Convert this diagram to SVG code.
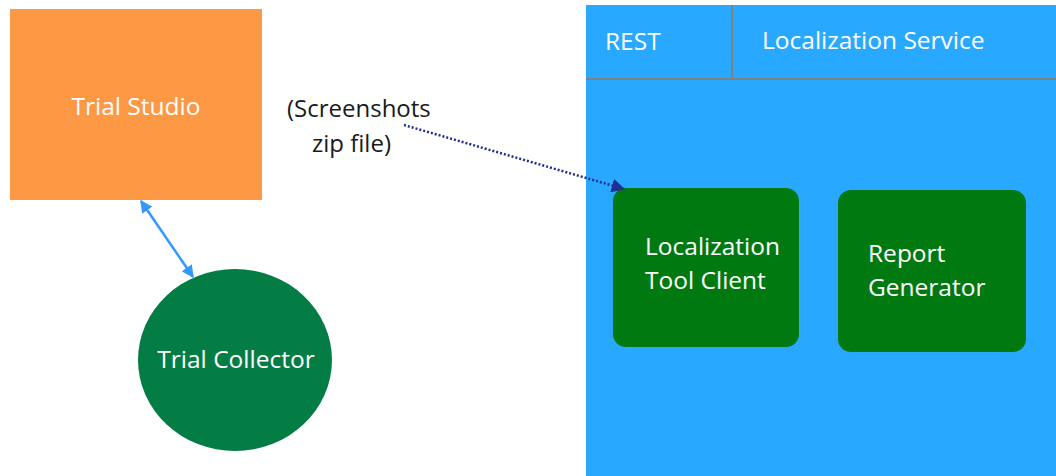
<svg xmlns="http://www.w3.org/2000/svg" width="1056" height="476" viewBox="0 0 1056 476">
  <defs>
    <style>
      .lbl { font-family: "Open Sans", "Noto Sans", sans-serif; font-size: 24.5px; fill: #ffffff; }
      .note { font-family: "Open Sans", "Noto Sans", sans-serif; font-size: 24px; fill: #1a1a1a; }
      .divider { stroke: #808080; stroke-width: 2; }
      .link { stroke: #3399ff; stroke-width: 2.5; fill: none; }
      .flow { stroke: #1f2f8f; stroke-width: 2.5; stroke-dasharray: 2 2; fill: none; }
    </style>
    <marker id="blueHead" viewBox="0 0 10 10" refX="9" refY="5" markerWidth="5" markerHeight="5" orient="auto-start-reverse">
      <path d="M0,0 L10,5 L0,10 z" fill="#3399ff"/>
    </marker>
    <marker id="navyHead" viewBox="0 0 10 10" refX="9" refY="5" markerWidth="5.5" markerHeight="5.5" orient="auto">
      <path d="M0,0 L10,5 L0,10 z" fill="#1f2f8f"/>
    </marker>
  </defs>

  <rect width="1056" height="476" fill="#ffffff"/>

  <!-- Localization service container -->
  <g id="localization-service">
    <rect x="586" y="5" width="470" height="471" fill="#29a8ff"/>
    <line class="divider" x1="586" y1="79" x2="1056" y2="79"/>
    <line class="divider" x1="732" y1="5" x2="732" y2="79"/>
    <text class="lbl" x="605" y="50">REST</text>
    <text class="lbl" x="762" y="49">Localization Service</text>
  </g>

  <g id="trial-studio">
    <rect x="10" y="9" width="252" height="191" fill="#fd9844"/>
    <text class="lbl" x="136" y="115" text-anchor="middle">Trial Studio</text>
  </g>

  <g id="trial-collector">
    <ellipse cx="235" cy="360" rx="97" ry="91" fill="#047d45"/>
    <text class="lbl" x="236" y="368" text-anchor="middle">Trial Collector</text>
  </g>

  <g id="tool-client">
    <rect x="613" y="188" width="186" height="159" rx="13" fill="#007a10"/>
    <text class="lbl" x="645" y="255">Localization</text>
    <text class="lbl" x="645" y="289">Tool Client</text>
  </g>

  <g id="report-generator">
    <rect x="838" y="190" width="188" height="162" rx="13" fill="#007a10"/>
    <text class="lbl" x="868" y="262">Report</text>
    <text class="lbl" x="868" y="296">Generator</text>
  </g>

  <g id="screenshots-note">
    <text class="note" x="287" y="117">(Screenshots</text>
    <text class="note" x="312" y="152">zip file)</text>
  </g>

  <g id="connectors">
    <line class="link" x1="141" y1="201" x2="193" y2="277" marker-start="url(#blueHead)" marker-end="url(#blueHead)"/>
    <line class="flow" x1="404" y1="125" x2="624" y2="189" marker-end="url(#navyHead)"/>
  </g>
</svg>
